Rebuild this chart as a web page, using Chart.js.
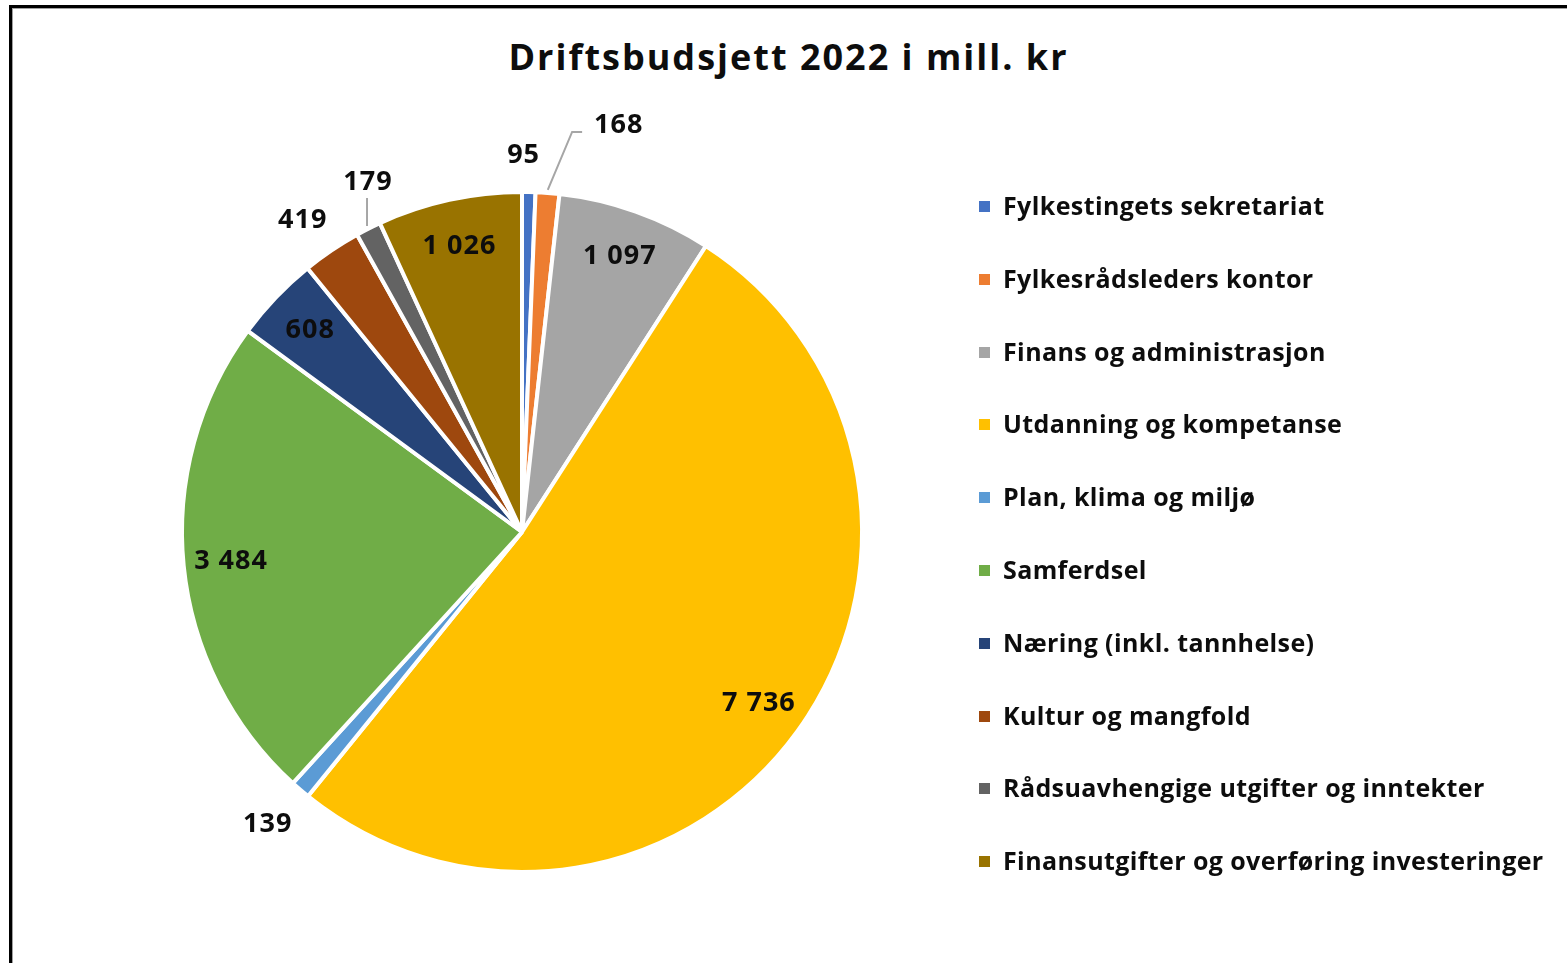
<!DOCTYPE html>
<html>
<head>
<meta charset="utf-8">
<script src="https://cdn.jsdelivr.net/npm/chart.js@4.4.0/dist/chart.umd.min.js"></script>
<style>
    html, body { margin: 0; padding: 0; background: #fff; }
    body { width: 1567px; height: 963px; position: relative; overflow: hidden; font-family: 'Open Sans', Lato, sans-serif; }
    #frame { position: absolute; left: 9px; top: 5px; width: 1700px; height: 1100px;
             border-left: 3px solid #000; border-top: 3px solid #000; box-shadow: inset 1px 1px 0 #a0a0a0; }
    #title { position: absolute; left: 0; width: 1577px; top: 32px; line-height: 50px; text-align: center;
             font-weight: 700; font-size: 36px; letter-spacing: 2px; color: #0d0d0d; }
    #chart { position: absolute; left: 0; top: 0; }
    #legend { position: absolute; left: 979px; top: 0; margin: 0; padding: 0; list-style: none; }
    #legend li { position: absolute; left: 0; white-space: nowrap; height: 32px; line-height: 32px;
                 font-weight: 700; font-size: 25px; letter-spacing: 0.4px; color: #0d0d0d; }
    #legend li span { display: inline-block; width: 11px; height: 11px; margin-right: 13px; vertical-align: 3px; }
</style>
</head>
<body>
<div id="frame"></div>
<div id="title">Driftsbudsjett 2022 i mill. kr</div>
<canvas id="chart" width="1567" height="963"></canvas>
<ul id="legend"></ul>
<script>
    // ---- Data ----
    const categories = [
        'Fylkestingets sekretariat',
        'Fylkesrådsleders kontor',
        'Finans og administrasjon',
        'Utdanning og kompetanse',
        'Plan, klima og miljø',
        'Samferdsel',
        'Næring (inkl. tannhelse)',
        'Kultur og mangfold',
        'Rådsuavhengige utgifter og inntekter',
        'Finansutgifter og overføring investeringer',
    ];
    const budget = [95, 168, 1097, 7736, 139, 3484, 608, 419, 179, 1026];

    // ---- Styles ----
    const colors = ['#4472C4', '#ED7D31', '#A5A5A5', '#FFC000', '#5B9BD5',
                    '#70AD47', '#264478', '#9E480E', '#636363', '#997300'];
    // label placement: 'in' = inside slice, 'out' = just outside, 'leader' = outside with a line
    const labelMode = ['out', 'leader', 'in', 'in', 'out', 'in', 'in', 'out', 'leader', 'in'];
    // extra offset of leader labels from the slice edge (px)
    const leaderOffset = { 1: [71, -65], 8: [1, -44] };

    const fmt = v => String(v).replace(/\B(?=(\d{3})+(?!\d))/g, ' ');

    // ---- Legend (HTML) ----
    const legendEl = document.getElementById('legend');
    categories.forEach((name, i) => {
        const li = document.createElement('li');
        li.style.top = (189 + i * 72.8) + 'px';
        li.innerHTML = '<span style="background:' + colors[i] + '"></span>' + name;
        legendEl.appendChild(li);
    });

    // ---- Data labels plugin ----
    const sliceLabels = {
        id: 'sliceLabels',
        afterDatasetsDraw(chart) {
            const ctx = chart.ctx;
            const meta = chart.getDatasetMeta(0);
            ctx.save();
            ctx.font = 'bold 27px "Open Sans", Lato, sans-serif';
            ctx.letterSpacing = '1px';
            ctx.fillStyle = '#0d0d0d';
            ctx.textAlign = 'center';
            ctx.textBaseline = 'middle';
            meta.data.forEach((arc, i) => {
                const p = arc.getProps(['x', 'y', 'startAngle', 'endAngle', 'outerRadius'], true);
                const mid = (p.startAngle + p.endAngle) / 2;
                const cos = Math.cos(mid), sin = Math.sin(mid);
                const text = fmt(budget[i]);
                let lx, ly;
                if (labelMode[i] === 'in') {
                    lx = p.x + cos * p.outerRadius * 0.86;
                    ly = p.y + sin * p.outerRadius * 0.86;
                } else if (labelMode[i] === 'out') {
                    lx = p.x + cos * p.outerRadius * 1.12 - 6;
                    ly = p.y + sin * p.outerRadius * 1.12 + 4;
                } else {
                    const ex = p.x + cos * (p.outerRadius + 3);
                    const ey = p.y + sin * (p.outerRadius + 3);
                    const off = leaderOffset[i];
                    lx = ex + off[0];
                    ly = ey + off[1];
                    const w = ctx.measureText(text).width;
                    ctx.beginPath();
                    ctx.strokeStyle = '#a6a6a6';
                    ctx.lineWidth = 2;
                    ctx.moveTo(ex, ey);
                    if (Math.abs(off[0]) > 20) {
                        const tx = lx - w / 2 - 12;
                        ctx.lineTo(tx - 10, ly + 7);
                        ctx.lineTo(tx, ly + 7);
                    } else {
                        ctx.lineTo(ex, ly + 16);
                    }
                    ctx.stroke();
                }
                ctx.fillText(text, lx, ly);
            });
            ctx.restore();
        },
    };

    // ---- Pie chart ----
    new Chart(document.getElementById('chart'), {
        type: 'pie',
        data: {
            labels: categories,
            datasets: [{
                data: budget,
                backgroundColor: colors,
                borderColor: '#fff',
                borderWidth: 4,
            }],
        },
        options: {
            responsive: false,
            animation: false,
            layout: { padding: { left: 180, right: 703, top: 190, bottom: 89 } },
            plugins: {
                legend: { display: false },
                tooltip: { enabled: false },
            },
        },
        plugins: [sliceLabels],
    });
</script>
</body>
</html>
